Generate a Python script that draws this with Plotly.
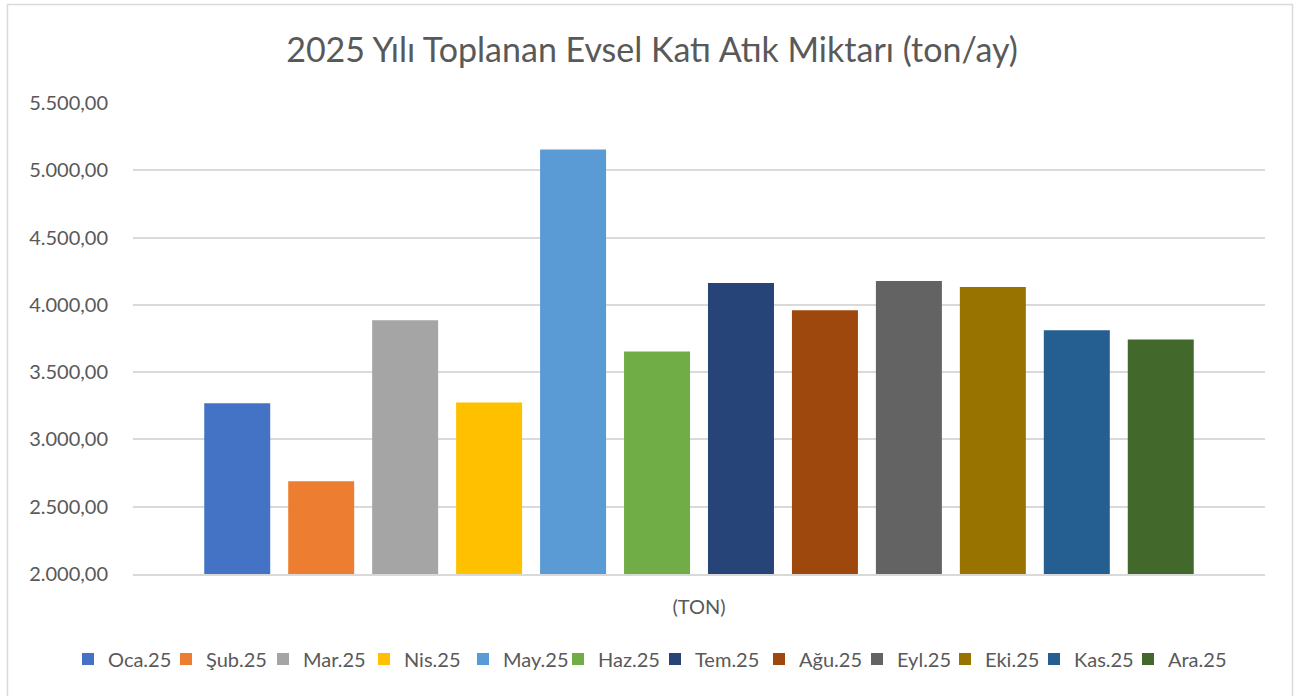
import plotly.graph_objects as go

# Monthly household solid waste collected in 2025 (tons)
months = ["Oca.25", "Şub.25", "Mar.25", "Nis.25", "May.25", "Haz.25",
          "Tem.25", "Ağu.25", "Eyl.25", "Eki.25", "Kas.25", "Ara.25"]
tons = [3268, 2689, 3886, 3274, 5154, 3654,
        4162, 3960, 4177, 4132, 3811, 3743]
colors = ["#4472C4", "#ED7D31", "#A5A5A5", "#FFC000", "#5B9BD5", "#70AD47",
          "#264478", "#9E480E", "#636363", "#997300", "#255E91", "#43682B"]
category = "(TON)"
y_ticks = [2000, 2500, 3000, 3500, 4000, 4500, 5000, 5500]

FONT = "Lato, 'Open Sans', sans-serif"
TXT = "#595959"
W, H = 1304, 696
L, R, T, B = 133, 39, 103, 122

# left edge (px) of each legend swatch along the bottom row
legend_px = [84, 182, 279, 380, 479, 574, 671, 775, 873, 961, 1050, 1144]

fig = go.Figure()
legend_layouts = {}
for i, (name, val, col) in enumerate(zip(months, tons, colors)):
    key = "legend" if i == 0 else f"legend{i + 1}"
    fig.add_trace(go.Bar(x=[category], y=[val], name=name, legend=key,
                         marker=dict(color=col, line=dict(width=0))))
    legend_layouts[key] = dict(
        orientation="h", xref="container", xanchor="left",
        x=(legend_px[i] - 16) / W,
        y=1 - 659 / H, yref="container", yanchor="middle",
        font=dict(family=FONT, size=20, color=TXT),
        itemwidth=30, bgcolor="rgba(0,0,0,0)")

pw = W - L - R
ph = H - T - B
# light gray frame around the whole chart
fig.add_shape(type="rect", xref="paper", yref="paper",
              x0=(7.5 - L) / pw, x1=(1292.5 - L) / pw,
              y0=-(H + 5 - T - ph) / ph, y1=1 + (T - 4.5) / ph,
              line=dict(color="#D9D9D9", width=1.5), fillcolor="rgba(0,0,0,0)",
              layer="below")

fig.update_layout(
    width=W, height=H,
    margin=dict(l=L, r=R, t=T, b=B, autoexpand=False),
    paper_bgcolor="white", plot_bgcolor="white",
    separators=",.",
    barmode="group", bargap=0.11, bargroupgap=0.214,
    title=dict(text="2025 Yılı Toplanan Evsel Katı Atık Miktarı (ton/ay)",
               x=0.5, xref="container", xanchor="center",
               y=1 - 50 / H, yref="container", yanchor="middle",
               font=dict(family=FONT, size=34, color=TXT)),
    xaxis=dict(showgrid=False, showline=True, linecolor="#D9D9D9", linewidth=1.5,
               ticks="outside", ticklen=14, tickcolor="rgba(0,0,0,0)",
               tickfont=dict(family=FONT, size=20, color=TXT)),
    yaxis=dict(range=[2000, 5500], tickvals=y_ticks, tickformat=",.2f",
               showgrid=True, gridcolor="#D9D9D9", gridwidth=1.5,
               zeroline=False, showline=False,
               ticks="outside", ticklen=20, tickcolor="rgba(0,0,0,0)",
               tickfont=dict(family=FONT, size=20, color=TXT)),
    showlegend=True,
)
fig.update_layout(**legend_layouts)

fig.write_html("out.html")
